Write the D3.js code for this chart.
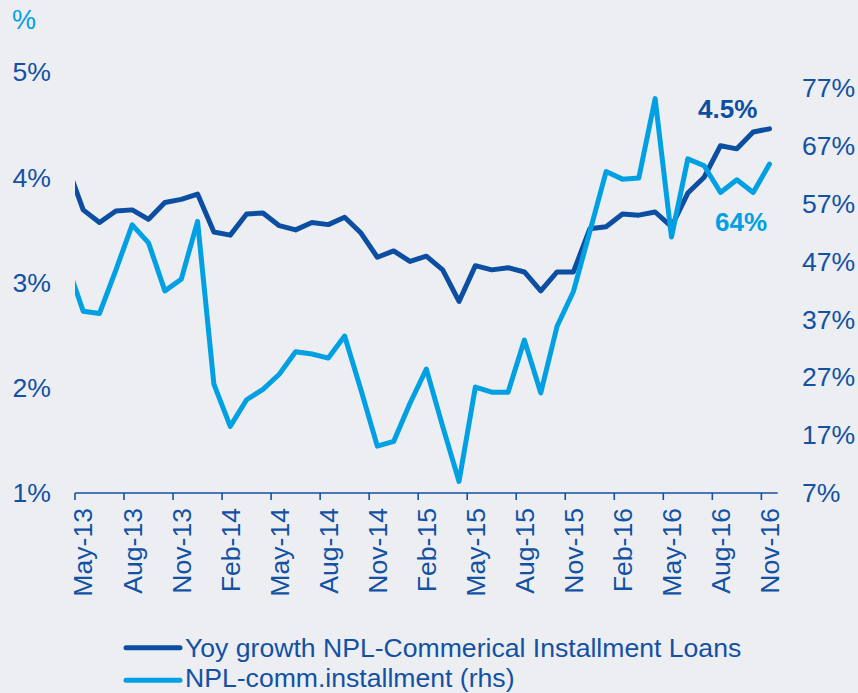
<!DOCTYPE html>
<html>
<head>
<meta charset="utf-8">
<script src="https://cdn.jsdelivr.net/npm/d3@7"></script>
<style>
  html, body { margin: 0; padding: 0; background: #eceef1; }
  svg { display: block; font-family: "Liberation Sans", Arial, sans-serif; }
</style>
</head>
<body>
<div id="chart"></div>
<script>
// months on the category axis (Apr-13 sits just left of the axis and is clipped)
const months = ["Apr-13",
  "May-13","Jun-13","Jul-13","Aug-13","Sep-13","Oct-13","Nov-13","Dec-13",
  "Jan-14","Feb-14","Mar-14","Apr-14","May-14","Jun-14","Jul-14","Aug-14","Sep-14","Oct-14","Nov-14","Dec-14",
  "Jan-15","Feb-15","Mar-15","Apr-15","May-15","Jun-15","Jul-15","Aug-15","Sep-15","Oct-15","Nov-15","Dec-15",
  "Jan-16","Feb-16","Mar-16","Apr-16","May-16","Jun-16","Jul-16","Aug-16","Sep-16","Oct-16","Nov-16"];

// Yoy growth NPL-Commerical Installment Loans (%, left axis)
const yoyGrowth = [4.12,
  3.69, 3.57, 3.68, 3.69, 3.60, 3.76, 3.79, 3.84,
  3.48, 3.45, 3.65, 3.66, 3.54, 3.50, 3.57, 3.55, 3.62, 3.47, 3.24, 3.30,
  3.20, 3.25, 3.12, 2.82, 3.16, 3.12, 3.14, 3.10, 2.92, 3.10, 3.10, 3.51,
  3.53, 3.65, 3.64, 3.67, 3.53, 3.85, 4.00, 4.30, 4.27, 4.43, 4.46];

// NPL-comm.installment (%, right axis)
const nplComm = [46.6,
  38.4, 38.0, 45.5, 53.3, 50.2, 41.9, 43.9, 53.9,
  25.8, 18.5, 23.1, 24.9, 27.5, 31.4, 31.0, 30.3, 34.1, 24.8, 15.1, 15.9,
  22.5, 28.4, 18.5, 9.0, 25.3, 24.4, 24.4, 33.4, 24.3, 35.8, 41.8, 52.1,
  62.5, 61.2, 61.4, 75.1, 51.2, 64.7, 63.5, 58.9, 61.1, 58.9, 63.8];

const leftTicks = [1, 2, 3, 4, 5];
const rightTicks = [7, 17, 27, 37, 47, 57, 67, 77];
const seriesNames = ["Yoy growth NPL-Commerical Installment Loans", "NPL-comm.installment (rhs)"];

const W = 858, H = 693;
const darkBlue = "#0b4ea2", cyan = "#00a0e3", textBlue = "#1351a4";
const fs = "26.6px";
const plot = { left: 75, right: 777.7, top: 72, bottom: 493 };

const svg = d3.select("#chart").append("svg")
  .attr("width", W).attr("height", H);

// category index -> pixel; Apr-13 has index -1
const nCat = months.length - 1;
const x = d3.scaleLinear().domain([0, nCat]).range([plot.left, plot.right]);
const yL = d3.scaleLinear().domain([1, 5]).range([plot.bottom, plot.top]);
const yR = d3.scaleLinear().domain([7, 79.7]).range([plot.bottom, plot.top]);

const cx = i => x(i - 1 + 0.5);

svg.append("clipPath").attr("id", "clip")
  .append("rect").attr("x", plot.left).attr("y", 0)
  .attr("width", plot.right - plot.left + 15).attr("height", plot.bottom);

// axis line and ticks (ticks between categories, every 3 months)
const tickIdx = d3.range(0, nCat, 3);
svg.append("line")
  .attr("x1", plot.left).attr("x2", plot.right)
  .attr("y1", plot.bottom).attr("y2", plot.bottom)
  .attr("stroke", textBlue).attr("stroke-width", 1.6);
svg.selectAll(".tick").data(tickIdx).join("line")
  .attr("x1", d => x(d)).attr("x2", d => x(d))
  .attr("y1", plot.bottom).attr("y2", plot.bottom + 7)
  .attr("stroke", textBlue).attr("stroke-width", 1.6);

// rotated month labels
svg.selectAll(".xlab").data(tickIdx).join("text")
  .attr("transform", d => `translate(${x(d + 0.5)}, ${plot.bottom + 15}) rotate(-90)`)
  .attr("text-anchor", "end").attr("dy", "0.35em")
  .attr("fill", textBlue).style("font-size", fs)
  .text(d => months[d + 1]);

// left labels
svg.selectAll(".ylab").data(leftTicks).join("text")
  .attr("x", 51).attr("y", d => yL(d)).attr("dy", "0.35em")
  .attr("text-anchor", "end").attr("fill", textBlue).style("font-size", fs)
  .text(d => d + "%");

// right labels
svg.selectAll(".yrlab").data(rightTicks).join("text")
  .attr("x", 802).attr("y", d => yR(d)).attr("dy", "0.35em")
  .attr("fill", textBlue).style("font-size", fs)
  .text(d => d + "%");

svg.append("text").attr("x", 12).attr("y", 29)
  .attr("fill", cyan).style("font-size", "27px").text("%");

// lines
const lineG = svg.append("g").attr("clip-path", "url(#clip)");
const lineL = d3.line().x((d, i) => cx(i)).y(d => yL(d));
const lineR = d3.line().x((d, i) => cx(i)).y(d => yR(d));

lineG.append("path").datum(yoyGrowth).attr("d", lineL)
  .attr("fill", "none").attr("stroke", darkBlue).attr("stroke-width", 5)
  .attr("stroke-linejoin", "round").attr("stroke-linecap", "round");
lineG.append("path").datum(nplComm).attr("d", lineR)
  .attr("fill", "none").attr("stroke", cyan).attr("stroke-width", 5)
  .attr("stroke-linejoin", "round").attr("stroke-linecap", "round");

// end labels
svg.append("text").attr("x", 698).attr("y", 118)
  .attr("fill", darkBlue).style("font-size", "26px").style("font-weight", "bold")
  .text("4.5%");
svg.append("text").attr("x", 715).attr("y", 231)
  .attr("fill", cyan).style("font-size", "26px").style("font-weight", "bold")
  .text("64%");

// legend
const legend = svg.append("g");
[[darkBlue, 647.7, 656.5], [cyan, 680.3, 687]].forEach(([c, ly, ty], k) => {
  legend.append("line").attr("x1", 126).attr("x2", 180).attr("y1", ly).attr("y2", ly)
    .attr("stroke", c).attr("stroke-width", 5).attr("stroke-linecap", "round");
  legend.append("text").attr("x", 185).attr("y", ty)
    .attr("fill", textBlue).style("font-size", fs).text(seriesNames[k]);
});
</script>
</body>
</html>
